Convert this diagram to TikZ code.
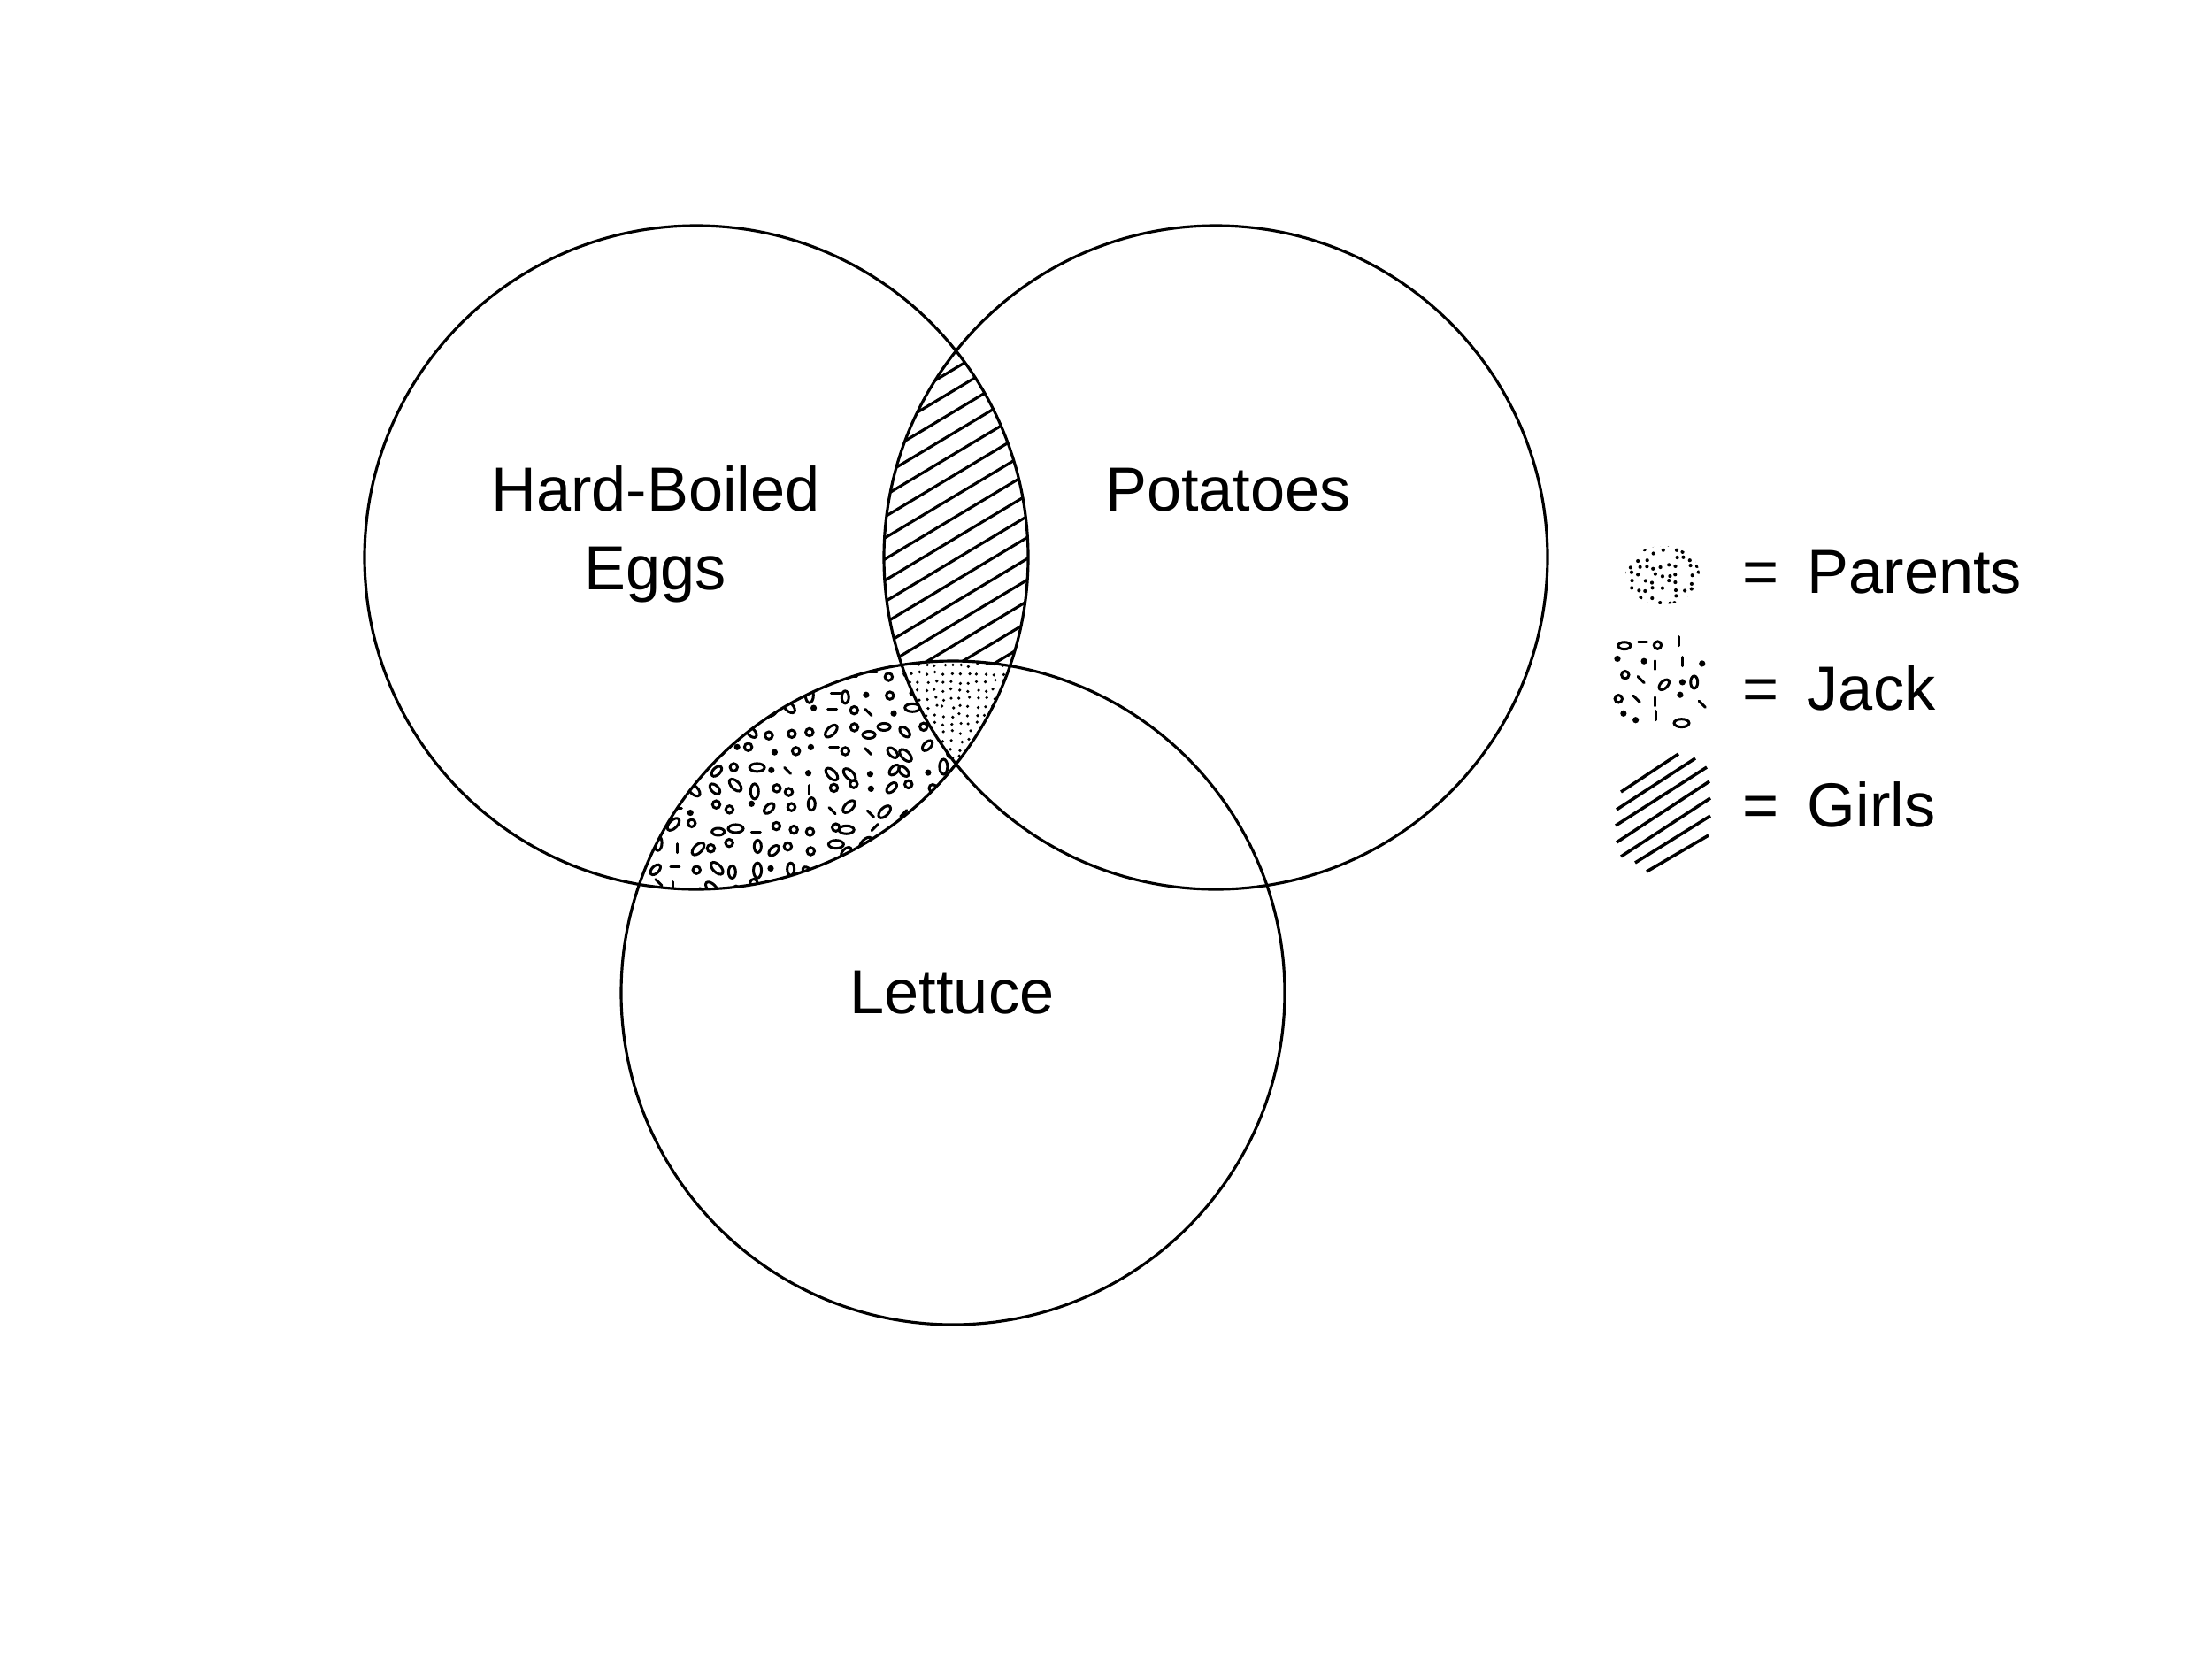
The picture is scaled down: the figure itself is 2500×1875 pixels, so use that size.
\documentclass[tikz,border=0pt]{standalone}
\usepackage{fontspec}
\setmainfont{Liberation Sans}
% #1,#2 origin; #3,#4 counts; #5,#6 centre; #7 radius of the kept disc
\newcommand\JackField[7]{%
  \foreach \i in {0,...,#3}{%
    \foreach \j in {0,...,#4}{%
      \pgfmathsetmacro{\px}{#1+\i*22+6*rand}%
      \pgfmathsetmacro{\py}{#2+\j*22+6*rand}%
      \pgfmathrandominteger{\t}{1}{5}%
      \pgfmathrandominteger{\a}{0}{3}%
      \pgfmathsetmacro{\ang}{45*\a}%
      \pgfmathtruncatemacro{\inside}{(((\px-#5)/100)^2+((\py-#6)/100)^2<((#7)/100)^2)?1:0}%
      \ifnum\inside=1
      \ifnum\t=1 \draw[jk] (\px,\py) circle[radius=4.2];\fi
      \ifnum\t=2 \draw[jk,rotate around={\ang:(\px,\py)}] (\px,\py) ellipse[x radius=8.5,y radius=4.5];\fi
      \ifnum\t=3 \fill (\px,\py) circle[radius=3.6];\fi
      \ifnum\t=4 \draw[jk,line cap=round] (\px,\py) ++(\ang:5) -- ++(\ang+180:10);\fi
      \ifnum\t=5 \draw[jk,rotate around={\ang+90:(\px,\py)}] (\px,\py) ellipse[x radius=7,y radius=4];\fi
      \fi
    }%
  }%
}
\begin{document}
\begin{tikzpicture}[x=0.01cm,y=-0.01cm,
  ring/.style={line width=0.9pt},
  jk/.style={line width=0.85pt},
  hatchln/.style={line width=0.9pt},
  legln/.style={line width=1pt},
  lbl/.style={font=\fontsize{20}{24}\selectfont, inner sep=0pt, anchor=base},
  leglbl/.style={font=\fontsize{20}{24}\selectfont, inner sep=0pt, anchor=base west},
]
\fill[white] (0,0) rectangle (2500,1875);
\useasboundingbox (0,0) rectangle (2500,1875);
\pgfmathsetseed{7}

\coordinate (L) at (787,630);
\coordinate (R) at (1374,630);
\coordinate (B) at (1077,1122);

% Jack region (Eggs & Lettuce)
\begin{scope}
  \clip (L) circle[radius=375];
  \clip (B) circle[radius=375];
  \JackField{675}{672}{24}{19}{932}{876}{300}
\end{scope}

% Girls region (Eggs & Potatoes) and Parents region (all three)
\begin{scope}
  \clip (L) circle[radius=375];
  \clip (R) circle[radius=375];
  \fill[white] (900,350) rectangle (1250,900);
  \foreach \c in {1040,1064,...,1460}{
    \draw[hatchln] (950,\c-570) -- (1210,\c-726);
  }
  \begin{scope}
    \clip (B) circle[radius=375];
    \fill[white] (900,700) rectangle (1250,900);
    \foreach \i in {0,...,15}{
      \foreach \j in {0,...,13}{
        \pgfmathsetmacro{\px}{1000+\i*9.5+2*rand}
        \pgfmathsetmacro{\py}{742+\j*9.5+2*rand}
        \fill (\px,\py) circle[radius=1.8];
      }
    }
  \end{scope}
\end{scope}

% circles
\draw[ring] (L) circle[radius=375];
\draw[ring] (R) circle[radius=375];
\draw[ring] (B) circle[radius=375];

% labels
\node[lbl] (hb) at (741,577) {Hard-Boiled};
\node[lbl] (eggs) at (741,666) {Eggs};
\node[lbl] (pot) at (1388,577) {Potatoes};
\node[lbl] (let) at (1076,1145) {Lettuce};

% legend: Parents
\begin{scope}
  \clip (1879,650) ellipse[x radius=42,y radius=33];
  \foreach \i in {0,...,10}{
    \foreach \j in {0,...,8}{
      \pgfmathsetmacro{\px}{1835+\i*8.5+2.5*rand}
      \pgfmathsetmacro{\py}{615+\j*8.5+2.5*rand}
      \pgfmathrandominteger{\k}{1}{10}
      \ifnum\k>3 \fill (\px,\py) circle[radius=2.1];\fi
    }
  }
\end{scope}
\node[lbl] (eq1) at (1990,670) {=};
\node[leglbl] (par) at (2042,670) {Parents};

% legend: Jack
\JackField{1810}{702}{6}{6}{1876}{767}{58}
\node[lbl] (eq2) at (1990,802) {=};
\node[leglbl] (jack) at (2042,802) {Jack};

% legend: Girls
\coordinate (g1a) at (1832,895); \coordinate (g1b) at (1897,852);
\coordinate (g2a) at (1827,915); \coordinate (g2b) at (1916,857);
\coordinate (g3a) at (1826,933); \coordinate (g3b) at (1929,867);
\coordinate (g4a) at (1827,952); \coordinate (g4b) at (1932,883);
\coordinate (g5a) at (1832,968); \coordinate (g5b) at (1933,902);
\coordinate (g6a) at (1848,975); \coordinate (g6b) at (1933,922);
\coordinate (g7a) at (1861,985); \coordinate (g7b) at (1931,944);
\foreach \n in {1,...,7}{\draw[legln] (g\n a) -- (g\n b);}
\node[lbl] (eq3) at (1990,934) {=};
\node[leglbl] (girls) at (2042,934) {Girls};
\end{tikzpicture}
\end{document}
